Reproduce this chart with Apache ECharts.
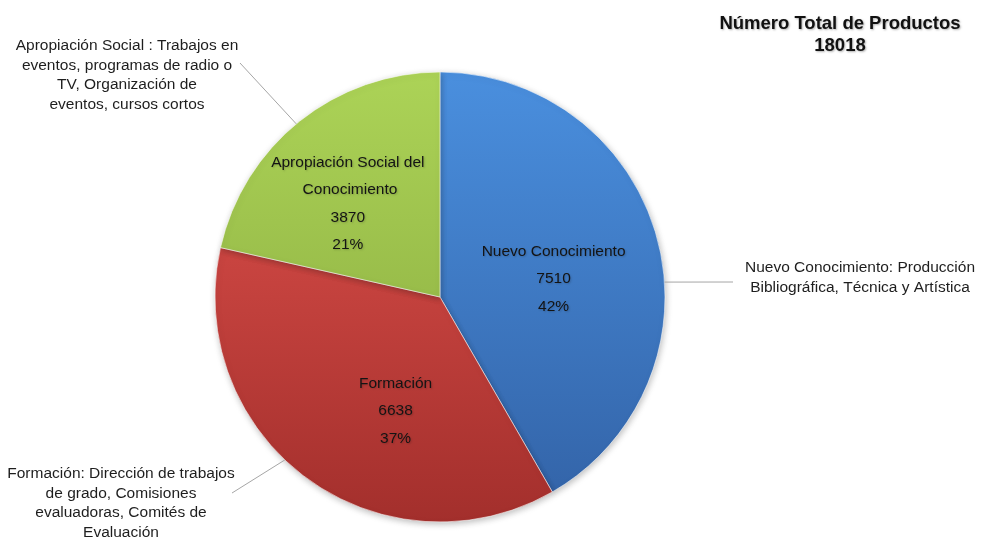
<!DOCTYPE html>
<html><head><meta charset="utf-8">
<script src="https://cdn.jsdelivr.net/npm/echarts@6/dist/echarts.min.js"></script>
<style>html,body{margin:0;padding:0;background:#fff}#c{width:982px;height:538px}</style>
</head><body><div id="c"></div>
<script>
const categories = ['Nuevo Conocimiento', 'Formación', 'Apropiación Social del Conocimiento'];
const values = [7510, 6638, 3870];
const descriptions = [
  'Nuevo Conocimiento: Producción\nBibliográfica, Técnica y Artística',
  'Formación: Dirección de trabajos\nde grado, Comisiones\nevaluadoras, Comités de\nEvaluación',
  'Apropiación Social : Trabajos en\neventos, programas de radio o\nTV, Organización de\neventos, cursos cortos'
];
const titleText = 'Número Total de Productos';
const total = values.reduce((a, b) => a + b, 0);

const CX = 440, CY = 297, R = 225;
const FONT = '"Liberation Sans", Arial, sans-serif';
const grad = (c1, c2) => new echarts.graphic.LinearGradient(0, CY - R, 0, CY + R,
  [{offset: 0, color: c1}, {offset: 1, color: c2}], true);
const colors = [grad('#4a8fde', '#3262a6'), grad('#e3534e', '#a32f2c'), grad('#acd357', '#85a63c')];

// inner label nudges (style)
const innerOffsets = [{dx: 2, dy: 12}, {dx: 24, dy: 21}, {dx: -20, dy: -3}];
// outer label placement (style): label box centre x, top y, edge angle (deg clockwise from top), line end
const outerPlace = [
  {x: 860, y: 258, ang: 86.2, ex: 733, ey: 282},
  {x: 121, y: 464, ang: 223.6, ex: 232, ey: 493},
  {x: 127, y: 36, ang: 320.3, ex: 240, ey: 63}
];

const data = categories.map((n, i) => ({name: n, value: values[i], itemStyle: {color: colors[i]}}));
const data2 = categories.map((n, i) => ({name: n, value: values[i]}));

const chart = echarts.init(document.getElementById('c'), null, {renderer: 'canvas'});
chart.setOption({
  backgroundColor: '#ffffff',
  animation: false,
  title: {
    text: titleText + '\n' + total,
    left: 835, top: 8,
    textAlign: 'center',
    textStyle: {
      fontFamily: FONT, fontSize: 18.5, fontWeight: 'bold', color: '#111',
      lineHeight: 22,
      textShadowColor: 'rgba(0,0,0,0.3)', textShadowBlur: 2, textShadowOffsetX: 1, textShadowOffsetY: 1
    }
  },
  series: [
    {
      type: 'pie',
      center: [CX, CY],
      radius: R,
      startAngle: 90,
      clockwise: true,
      silent: true,
      data: data,
      itemStyle: {borderColor: 'rgba(255,255,255,0.55)', borderWidth: 1,
        shadowColor: 'rgba(0,0,0,0.25)', shadowBlur: 6, shadowOffsetX: 1, shadowOffsetY: 2},
      label: {
        position: 'inside',
        formatter: p => p.name + '\n' + p.value + '\n' + Math.round(p.percent) + '%',
        fontFamily: FONT, fontSize: 15.5, lineHeight: 27.5, color: '#141414',
        width: 165, overflow: 'break', align: 'center',
        textShadowColor: 'rgba(0,0,0,0.2)', textShadowBlur: 2, textShadowOffsetX: 1, textShadowOffsetY: 1
      },
      labelLine: {show: false},
      labelLayout: p => innerOffsets[p.dataIndex]
    },
    {
      type: 'pie',
      center: [CX, CY],
      radius: R,
      startAngle: 90,
      clockwise: true,
      silent: true,
      z: 3,
      data: data2,
      itemStyle: {color: 'rgba(0,0,0,0)'},
      label: {
        position: 'outside',
        formatter: p => descriptions[p.dataIndex],
        fontFamily: FONT, fontSize: 15.5, lineHeight: 19.5, color: '#1e1e1e', align: 'center'
      },
      labelLine: {show: true, length: 10, length2: 10, lineStyle: {color: '#a6a6a6', width: 1}},
      labelLayout: p => {
        const o = outerPlace[p.dataIndex];
        const a = o.ang * Math.PI / 180;
        const sx = CX + R * Math.sin(a), sy = CY - R * Math.cos(a);
        return {x: o.x, y: o.y, align: 'center', verticalAlign: 'top',
          labelLinePoints: [[sx, sy], [o.ex, o.ey], [o.ex, o.ey]]};
      }
    }
  ]
});
</script></body></html>
